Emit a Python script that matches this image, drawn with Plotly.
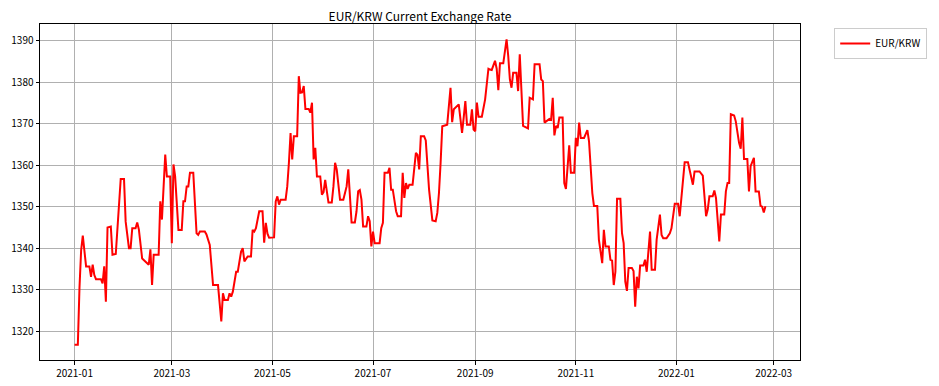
import pandas as pd
import plotly.graph_objects as go

start_date = "2021-01-01"
day_offsets = [
    0, 2, 3, 4, 5, 7, 9, 10, 11, 12, 13, 16, 17, 18, 19, 20, 22, 23, 25, 28,
    30, 31, 33, 34, 35, 37, 38, 39, 41, 44, 45, 46, 47, 48, 51, 52, 53, 55, 56, 58,
    59, 60, 61, 63, 65, 66, 67, 68, 69, 70, 72, 74, 75, 76, 79, 80, 82, 84, 87, 89,
    90, 91, 93, 94, 95, 96, 98, 99, 101, 102, 103, 105, 107, 108, 109, 110, 112, 114, 115, 116,
    117, 118, 121, 122, 123, 124, 125, 128, 129, 130, 131, 132, 133, 135, 136, 137, 138, 139, 140, 142,
    143, 144, 145, 146, 147, 149, 150, 151, 152, 154, 156, 157, 158, 159, 160, 161, 163, 165, 166, 167,
    168, 170, 171, 172, 173, 174, 175, 177, 178, 179, 180, 181, 182, 185, 186, 187, 188, 190, 191, 192,
    193, 195, 196, 198, 199, 200, 201, 202, 203, 205, 207, 208, 209, 210, 212, 213, 214, 215, 217, 219,
    220, 221, 222, 223, 226, 227, 228, 229, 230, 233, 234, 235, 236, 237, 238, 240, 241, 242, 243, 244,
    245, 247, 249, 250, 251, 252, 253, 255, 256, 257, 258, 260, 262, 263, 264, 265, 266, 268, 269, 270,
    271, 272, 275, 276, 278, 279, 282, 283, 284, 285, 288, 289, 290, 291, 292, 293, 294, 296, 297, 298,
    300, 301, 303, 304, 305, 306, 307, 309, 311, 312, 314, 315, 317, 318, 320, 321, 322, 324, 325, 326,
    327, 328, 329, 331, 332, 333, 334, 335, 336, 338, 339, 340, 341, 342, 343, 345, 346, 347, 349, 350,
    352, 353, 355, 356, 357, 359, 361, 362, 364, 366, 367, 368, 370, 372, 374, 375, 376, 379, 381, 382,
    383, 384, 385, 387, 388, 389, 390, 391, 392, 394, 395, 396, 397, 398, 400, 401, 403, 404, 405, 406,
    408, 409, 410, 412, 413, 415, 416, 417, 418, 419,
]
eur_krw = [
    1316.7, 1316.7, 1330.5, 1339.5, 1343.0, 1335.6, 1335.6, 1333.1, 1336.0, 1333.5, 1332.5, 1332.5, 1331.5, 1335.6, 1327.1, 1345.0, 1345.2, 1338.4, 1338.6, 1356.7,
    1356.7, 1346.4, 1340.0, 1340.0, 1344.8, 1344.8, 1346.2, 1344.5, 1337.5, 1336.4, 1336.0, 1339.7, 1331.1, 1338.4, 1338.4, 1351.3, 1346.9, 1362.6, 1357.3, 1357.3,
    1341.2, 1360.2, 1357.3, 1344.4, 1344.4, 1351.3, 1351.3, 1354.9, 1354.9, 1358.2, 1358.2, 1343.6, 1343.2, 1344.0, 1344.0, 1343.3, 1340.8, 1331.1, 1331.1, 1322.3,
    1329.1, 1327.5, 1327.5, 1329.1, 1328.3, 1329.5, 1334.3, 1334.3, 1339.2, 1340.0, 1336.8, 1338.0, 1338.0, 1344.4, 1344.0, 1344.8, 1348.9, 1348.9, 1341.3, 1346.1,
    1343.5, 1342.5, 1342.6, 1351.3, 1352.5, 1350.5, 1351.7, 1351.7, 1354.9, 1360.6, 1367.8, 1361.4, 1367.0, 1367.0, 1381.5, 1377.5, 1377.6, 1379.1, 1373.6, 1373.6,
    1372.7, 1375.1, 1361.4, 1364.2, 1357.3, 1357.3, 1352.9, 1353.5, 1356.5, 1351.0, 1351.0, 1354.9, 1360.6, 1359.0, 1354.5, 1351.7, 1351.7, 1354.9, 1359.0, 1351.7,
    1346.2, 1346.2, 1348.9, 1353.7, 1354.0, 1351.7, 1345.2, 1345.2, 1347.7, 1346.5, 1340.4, 1344.0, 1341.2, 1341.2, 1344.8, 1346.1, 1358.2, 1358.2, 1359.4, 1354.1,
    1354.1, 1348.9, 1347.7, 1347.7, 1358.2, 1352.1, 1355.7, 1354.3, 1355.3, 1355.3, 1363.0, 1362.5, 1359.0, 1367.0, 1367.0, 1366.0, 1360.6, 1354.1, 1346.7, 1346.5,
    1348.5, 1353.3, 1360.6, 1369.4, 1369.8, 1374.3, 1378.7, 1370.4, 1373.5, 1374.7, 1371.0, 1367.8, 1371.5, 1375.5, 1369.8, 1369.8, 1373.5, 1368.6, 1368.2, 1375.1,
    1371.7, 1371.7, 1375.9, 1379.5, 1383.3, 1383.1, 1383.0, 1385.2, 1383.3, 1378.1, 1384.6, 1384.6, 1390.4, 1386.4, 1380.7, 1378.7, 1382.3, 1382.3, 1377.9, 1386.8,
    1377.9, 1369.5, 1368.9, 1376.3, 1375.9, 1384.4, 1384.4, 1380.7, 1380.3, 1370.3, 1371.2, 1371.0, 1376.3, 1367.2, 1369.5, 1369.0, 1371.5, 1371.5, 1355.7, 1354.3,
    1364.8, 1358.2, 1358.2, 1366.6, 1364.6, 1370.3, 1366.6, 1366.6, 1368.5, 1365.8, 1353.3, 1350.2, 1350.2, 1342.0, 1336.4, 1344.4, 1340.4, 1340.4, 1337.2, 1337.0,
    1331.1, 1334.3, 1351.9, 1351.9, 1343.6, 1341.2, 1331.9, 1329.7, 1335.2, 1335.2, 1334.5, 1325.9, 1333.1, 1330.3, 1335.8, 1335.8, 1337.2, 1334.3, 1344.0, 1334.8,
    1334.8, 1342.0, 1348.1, 1343.2, 1342.4, 1342.4, 1343.6, 1344.8, 1350.7, 1350.7, 1347.7, 1352.5, 1360.7, 1360.7, 1356.5, 1355.3, 1358.5, 1358.5, 1357.5, 1351.7,
    1347.7, 1349.3, 1352.5, 1352.5, 1353.9, 1352.1, 1346.1, 1341.6, 1348.1, 1348.1, 1353.7, 1355.7, 1355.7, 1372.3, 1372.0, 1370.6, 1365.4, 1364.0, 1371.5, 1361.5,
    1361.5, 1353.7, 1359.8, 1361.8, 1353.7, 1353.7, 1350.2, 1350.0, 1348.6, 1350.1,
]
y_ticks = [1320, 1330, 1340, 1350, 1360, 1370, 1380, 1390]
x_ticks = ["2021-01-01", "2021-03-01", "2021-05-01", "2021-07-01", "2021-09-01",
           "2021-11-01", "2022-01-01", "2022-03-01"]

dates = pd.to_datetime(start_date) + pd.to_timedelta(day_offsets, unit="D")

# matplotlib-like 5% margins
span_x = dates.max() - dates.min()
x_range = [dates.min() - 0.05 * span_x, dates.max() + 0.05 * span_x]
ymin, ymax = min(eur_krw), max(eur_krw)
span_y = ymax - ymin
y_range = [ymin - 0.05 * span_y, ymax + 0.05 * span_y]

font_family = "Noto Sans CJK KR, Noto Sans, DejaVu Sans, sans-serif"

# page body has an 8px default margin; size the figure to fit the window
body_pad = 8
fig_w, fig_h = 939 - body_pad, 386 - body_pad

fig = go.Figure()
fig.add_trace(go.Scatter(
    x=dates, y=eur_krw, mode="lines", name="EUR/KRW",
    line=dict(color="#ff0000", width=2),
))

axis_common = dict(
    showline=True, linecolor="black", linewidth=1, mirror=True,
    showgrid=True, gridcolor="#b0b0b0", gridwidth=0.8,
    ticks="outside", ticklen=3.5, tickwidth=0.8, tickcolor="black",
    tickfont=dict(size=10, color="black", family=font_family),
    zeroline=False, automargin=False,
)

fig.update_layout(
    width=fig_w, height=fig_h,
    margin=dict(l=40 - body_pad, r=939 - 800, t=24 - body_pad, b=26, autoexpand=False),
    paper_bgcolor="white", plot_bgcolor="white",
    font=dict(family=font_family, color="black"),
    title=dict(text="EUR/KRW Current Exchange Rate", x=0.5, xref="paper",
               y=1 - (17 - body_pad) / fig_h, yref="container", yanchor="middle",
               xanchor="center", font=dict(size=12, color="black")),
    xaxis=dict(range=x_range, tickvals=x_ticks, tickformat="%Y-%m", **axis_common),
    yaxis=dict(range=y_range, tickvals=y_ticks, **axis_common),
    showlegend=True,
    legend=dict(x=1.045, y=0.988, xanchor="left", yanchor="top",
                bordercolor="#cccccc", borderwidth=1, bgcolor="white",
                itemwidth=30, font=dict(size=10, color="black")),
)

fig.write_html("out.html")
